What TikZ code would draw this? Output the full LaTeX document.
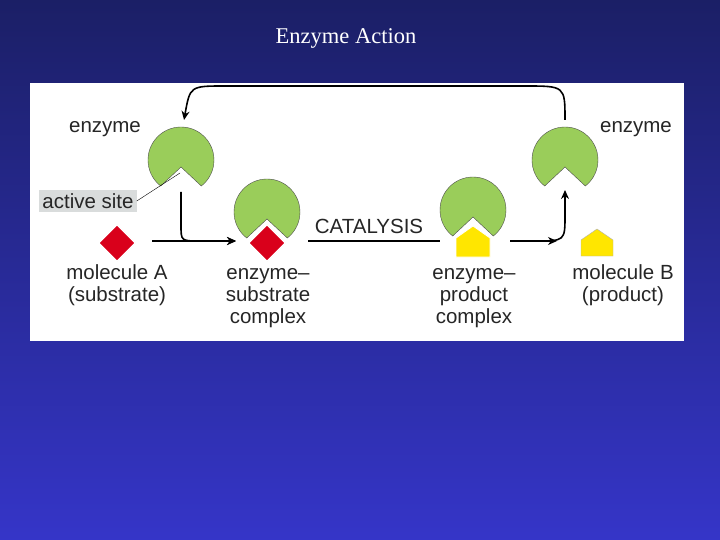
\documentclass[tikz,border=0pt]{standalone}
\usepackage{fontspec}
\setmainfont{Liberation Serif}
\newfontfamily\labelfont{Liberation Sans}
\usetikzlibrary{arrows.meta}
\definecolor{bgtop}{HTML}{1B1F66}
\definecolor{bgbot}{HTML}{3535C8}
\definecolor{enzgreen}{HTML}{9ACD5A}
\definecolor{subred}{HTML}{D9001B}
\definecolor{prodyellow}{HTML}{FFE600}
\definecolor{sitegray}{HTML}{D9DCDC}
\tikzset{
    %Define standard arrow tip
    >={Stealth[length=9pt,width=8pt]},
    %Define style for labels
    lbl/.style={
           font=\labelfont\fontsize{20.5}{22}\selectfont,
           text=black!85,
           align=center,
           inner sep=1pt},
    % Define arrow style
    pil/.style={
           ->,
           line width=1.6pt}
}
\newcommand{\enzymeshape}[2]{%
  \fill[enzgreen, draw=black!70, thin] (#1,#2) ++(128:33) arc (128:412:33) -- (#1,#2+7) -- cycle;}
\begin{document}
\begin{tikzpicture}[x=1pt,y=-1pt]
\useasboundingbox (0,0) rectangle (720,540);
\shade[top color=bgtop, bottom color=bgbot] (0,0) rectangle (720,540);
\fill[white] (30,83) rectangle (684,341);
\node[font=\fontsize{22.5}{26}\selectfont, text=white] (title) at (346,38) {Enzyme Action};
 %enzymes
\enzymeshape{181}{160}
\enzymeshape{267}{212}
\enzymeshape{473}{210}
\enzymeshape{565}{160}
 %substrate and product
\fill[subred, draw=white, thick] (117,225) -- (135,243) -- (117,261) -- (99,243) -- cycle;
\fill[subred, draw=white, thick] (267,225) -- (285,243) -- (267,261) -- (249,243) -- cycle;
\fill[prodyellow, draw=white, thick] (473,226) -- (490,238) -- (490,257) -- (456,257) -- (456,238) -- cycle;
\fill[prodyellow, draw=black!30, thin] (597,229) -- (613,240) -- (613,256) -- (581,256) -- (581,240) -- cycle;
 %nodes
\node[lbl] (enz1) at (105,129) {enzyme};
\node[lbl] (enz4) at (636,129) {enzyme};
\node[lbl, fill=sitegray, inner sep=3pt] (site) at (88,201) {active site};
\node[lbl] (molA) at (117,285) {molecule A\\(substrate)};
\node[lbl] (esc) at (268,298) {enzyme–\\substrate\\complex};
\node[lbl] (cat) at (369,226) {CATALYSIS};
\node[lbl] (epc) at (474,298) {enzyme–\\product\\complex};
\node[lbl] (molB) at (623,285) {molecule B\\(product)};
\coordinate (tipsite) at (180,173);
\coordinate (e1b) at (181,192);
\coordinate (e1t) at (184,120);
\coordinate (e4b) at (565,190);
\coordinate (e4t) at (565,120);
\coordinate (ain) at (236,241);
\coordinate (aout) at (152,241);
\coordinate (cs) at (308,241);
\coordinate (ce) at (440,241);
\coordinate (bs) at (510,241);
\coordinate (be) at (557,241);
 %connectors
\draw[thin] (site.east) -- (tipsite);
\draw[pil] (aout) -- (ain);
\draw[pil] (e1b) -- (181,225) .. controls (181,241) .. (200,241) -- (ain);
\draw[line width=1.6pt] (cs) -- (ce);
\draw[pil] (bs) -- (be);
\draw[pil] (535,241) .. controls (565,241) .. (565,215) -- (e4b);
\draw[pil] (e4t) .. controls (565,86) .. (525,86) -- (225,86) .. controls (190,86) .. (e1t);
\end{tikzpicture}
\end{document}
